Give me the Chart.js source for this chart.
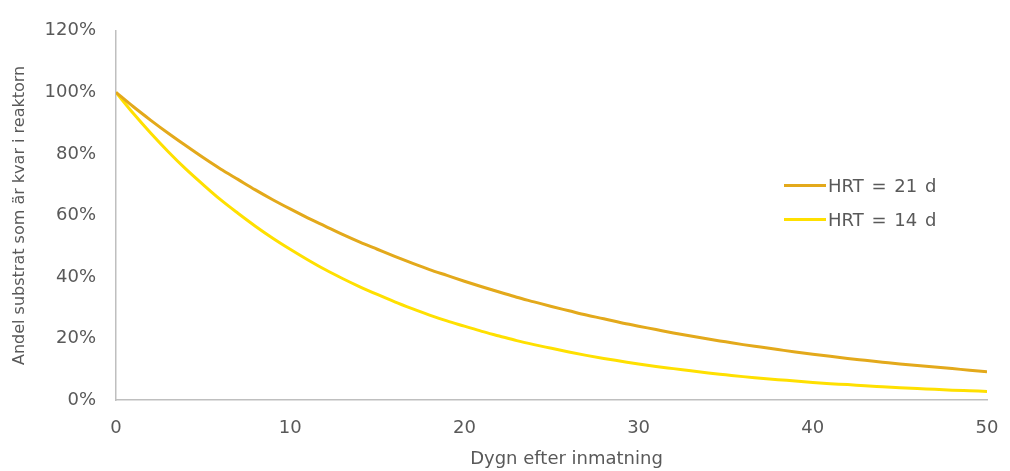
<!DOCTYPE html>
<html lang="sv">
<head>
<meta charset="utf-8">
<title>Andel substrat som är kvar i reaktorn</title>
<script src="https://cdn.jsdelivr.net/npm/chart.js@4/dist/chart.umd.min.js"></script>
<style>
  html, body { margin: 0; padding: 0; background: #ffffff; }
  #wrap { position: relative; width: 1010px; height: 471px; }
  #legend { position: absolute; left: 784px; top: 168px; font-family: "DejaVu Sans", sans-serif; font-size: 18px; color: #595959; word-spacing: 2px; }
  #legend .item { display: flex; align-items: center; height: 34px; }
  #legend .swatch { width: 42px; height: 3px; margin-right: 2px; }
</style>
</head>
<body>
<div id="wrap">
  <canvas id="chart" width="1010" height="471"></canvas>
  <div id="legend"></div>
</div>
<script>
// Days after feeding
const days = [];
for (let d = 0; d <= 50; d++) days.push(d);

// Share of substrate remaining in the reactor (fraction), one value per day
const hrt21 = [1.000, 0.953, 0.909, 0.867, 0.827, 0.788, 0.751, 0.717, 0.683, 0.651,
               0.621, 0.592, 0.565, 0.538, 0.513, 0.490, 0.467, 0.445, 0.424, 0.405,
               0.386, 0.368, 0.351, 0.334, 0.319, 0.304, 0.290, 0.276, 0.264, 0.251,
               0.240, 0.229, 0.218, 0.208, 0.198, 0.189, 0.180, 0.172, 0.164, 0.156,
               0.149, 0.142, 0.135, 0.129, 0.123, 0.117, 0.112, 0.107, 0.102, 0.097,
               0.092];
const hrt14 = [1.000, 0.931, 0.867, 0.807, 0.751, 0.700, 0.651, 0.607, 0.565, 0.526,
               0.490, 0.456, 0.424, 0.395, 0.368, 0.343, 0.319, 0.297, 0.276, 0.257,
               0.240, 0.223, 0.208, 0.193, 0.180, 0.168, 0.156, 0.145, 0.135, 0.126,
               0.117, 0.109, 0.102, 0.095, 0.088, 0.082, 0.076, 0.071, 0.066, 0.062,
               0.057, 0.053, 0.050, 0.046, 0.043, 0.040, 0.037, 0.035, 0.032, 0.030,
               0.028];

const seriesNames = ["HRT = 21 d", "HRT = 14 d"];
const seriesColors = ["#E3A91B", "#FFE000"];
const xTicks = [0, 10, 20, 30, 40, 50];
const yTicks = [0, 0.2, 0.4, 0.6, 0.8, 1.0, 1.2];
const xTitle = "Dygn efter inmatning";
const yTitle = "Andel substrat som är kvar i reaktorn";

const FONT = "'DejaVu Sans', sans-serif";
const TEXT = "#595959";
const AXIS = "#BFBFBF";

// x-axis title, drawn below the tick labels
const xTitlePlugin = {
  id: "xTitle",
  afterDraw(chart) {
    const { ctx, chartArea } = chart;
    ctx.save();
    ctx.font = "18px " + FONT;
    ctx.fillStyle = TEXT;
    ctx.textAlign = "center";
    ctx.textBaseline = "middle";
    ctx.fillText(xTitle, (chartArea.left + chartArea.right) / 2 + 15, 459);
    ctx.restore();
  }
};

const ds = [hrt21, hrt14].map((vals, i) => ({
  label: seriesNames[i],
  data: vals.map((v, j) => ({ x: days[j], y: v })),
  borderColor: seriesColors[i],
  backgroundColor: seriesColors[i],
  borderWidth: 3,
  pointRadius: 0,
  cubicInterpolationMode: "monotone",
  fill: false
}));

new Chart(document.getElementById("chart"), {
  type: "line",
  data: { datasets: ds },
  plugins: [xTitlePlugin],
  options: {
    responsive: false,
    animation: false,
    layout: { padding: { top: 29, right: 23, left: 10, bottom: 0 } },
    plugins: { legend: { display: false }, tooltip: { enabled: false } },
    scales: {
      x: {
        type: "linear",
        min: 0, max: 50,
        afterBuildTicks(scale) { scale.ticks = xTicks.map(v => ({ value: v })); },
        afterFit(scale) { scale.height = 71; scale.paddingRight = 0; },
        grid: { display: false, drawTicks: false },
        border: { display: true, color: AXIS, width: 1.5 },
        ticks: { padding: 18, color: TEXT, font: { family: FONT, size: 18 }, maxRotation: 0 }
      },
      y: {
        min: 0, max: 1.2,
        afterBuildTicks(scale) { scale.ticks = yTicks.map(v => ({ value: v })); },
        afterFit(scale) { scale.width = 106; },
        grid: { display: false, drawTicks: false },
        border: { display: true, color: AXIS, width: 1.5 },
        ticks: {
          padding: 20, color: TEXT, font: { family: FONT, size: 18 },
          callback: v => Math.round(v * 100) + "%"
        },
        title: { display: true, text: yTitle, color: TEXT, font: { family: FONT, size: 16 }, padding: { top: 0, bottom: 4 } }
      }
    }
  }
});

// HTML legend
const legend = document.getElementById("legend");
seriesNames.forEach((name, i) => {
  const item = document.createElement("div");
  item.className = "item";
  const sw = document.createElement("span");
  sw.className = "swatch";
  sw.style.background = seriesColors[i];
  const label = document.createElement("span");
  label.textContent = name;
  item.appendChild(sw);
  item.appendChild(label);
  legend.appendChild(item);
});
</script>
</body>
</html>
